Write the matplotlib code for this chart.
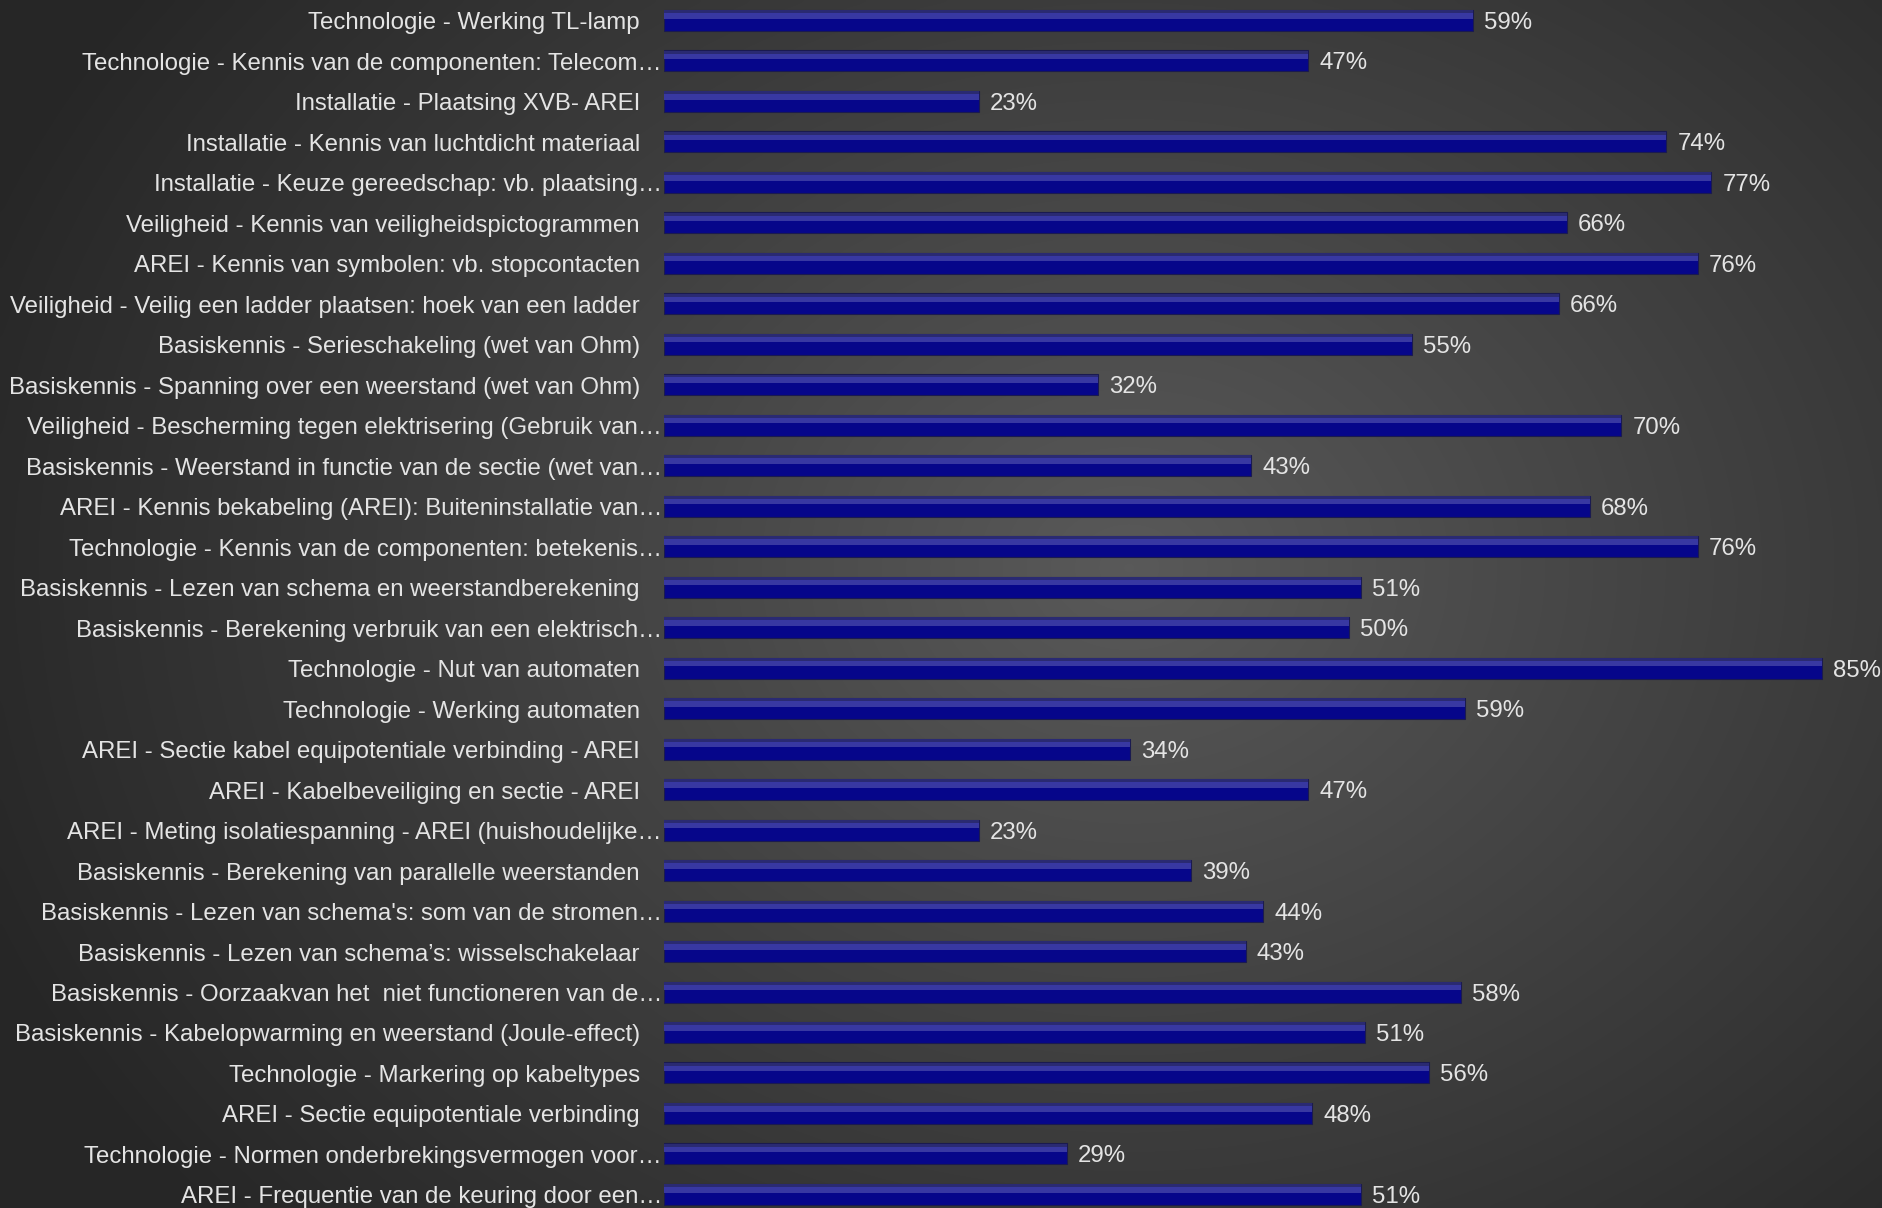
import matplotlib
matplotlib.use("Agg")
import matplotlib.pyplot as plt
import matplotlib.transforms as mtransforms
import numpy as np

plt.rcParams['font.family'] = ['Liberation Sans', 'DejaVu Sans']

# categories top to bottom
labels = [
    "Technologie - Werking TL-lamp",
    "Technologie - Kennis van de componenten: Telecom…",
    "Installatie - Plaatsing XVB- AREI",
    "Installatie - Kennis van luchtdicht materiaal",
    "Installatie - Keuze gereedschap: vb. plaatsing…",
    "Veiligheid - Kennis van veiligheidspictogrammen",
    "AREI - Kennis van symbolen: vb. stopcontacten",
    "Veiligheid - Veilig een ladder plaatsen: hoek van een ladder",
    "Basiskennis - Serieschakeling (wet van Ohm)",
    "Basiskennis - Spanning over een weerstand (wet van Ohm)",
    "Veiligheid - Bescherming tegen elektrisering (Gebruik van…",
    "Basiskennis - Weerstand in functie van de sectie (wet van…",
    "AREI - Kennis bekabeling (AREI): Buiteninstallatie van…",
    "Technologie - Kennis van de componenten: betekenis…",
    "Basiskennis - Lezen van schema en weerstandberekening",
    "Basiskennis - Berekening verbruik van een elektrisch…",
    "Technologie - Nut van automaten",
    "Technologie - Werking automaten",
    "AREI - Sectie kabel equipotentiale verbinding - AREI",
    "AREI - Kabelbeveiliging en sectie - AREI",
    "AREI - Meting isolatiespanning - AREI (huishoudelijke…",
    "Basiskennis - Berekening van parallelle weerstanden",
    "Basiskennis - Lezen van schema's: som van de stromen…",
    "Basiskennis - Lezen van schema’s: wisselschakelaar",
    "Basiskennis - Oorzaakvan het  niet functioneren van de…",
    "Basiskennis - Kabelopwarming en weerstand (Joule-effect)",
    "Technologie - Markering op kabeltypes",
    "AREI - Sectie equipotentiale verbinding",
    "Technologie - Normen onderbrekingsvermogen voor…",
    "AREI - Frequentie van de keuring door een…",
]

# bar lengths as measured (percent)
values = [59.4, 47.3, 23.1, 73.6, 76.9, 66.3, 75.9, 65.7, 54.9, 31.9,
          70.3, 43.1, 68.0, 75.9, 51.2, 50.3, 85.0, 58.8, 34.2, 47.3,
          23.1, 38.7, 44.0, 42.7, 58.5, 51.5, 56.2, 47.6, 29.6, 51.2]

# percentages printed next to the bars
shown = [59, 47, 23, 74, 77, 66, 76, 66, 55, 32,
         70, 43, 68, 76, 51, 50, 85, 59, 34, 47,
         23, 39, 44, 43, 58, 51, 56, 48, 29, 51]

W, H = 1883, 1208
fig = plt.figure(figsize=(W / 100, H / 100), dpi=100)

# background radial gradient
bg = fig.add_axes([0, 0, 1, 1])
gx, gy = np.meshgrid(np.linspace(0, 1, 400), np.linspace(0, 1, 260))
r = np.sqrt(((gx - 0.6) / 0.72) ** 2 + ((gy - 0.47) / 0.9) ** 2)
shade = np.clip(0.35 - 0.22 * r, 0.15, 0.35)
bg.imshow(np.dstack([shade, shade, shade]), aspect='auto', extent=[0, 1, 0, 1],
          interpolation='bicubic')
bg.set_axis_off()

left_px = 664
ax = fig.add_axes([left_px / W, 0, 1 - left_px / W, 1])
ax.patch.set_alpha(0)
n = len(labels)
y = np.arange(n)
px_per_pct = 13.62
ax.set_xlim(0, (W - left_px) / px_per_pct)
row = 40.48
top = 20.5
ax.set_ylim((H - top) / row, -top / row)

h = 21 / row
ax.barh(y, values, height=h, color='#06068a', edgecolor='#1a1a50', linewidth=0.8, zorder=2)
ax.barh(y - h * 0.27, values, height=h * 0.36, color='#3838a2', linewidth=0, zorder=3)
ax.barh(y - h * 0.42, values, height=h * 0.14, color='#2a2a72', linewidth=0, zorder=4)

fs = 17.3
for i in range(n):
    ax.text(values[i], y[i], f"{shown[i]}%", transform=ax.transData +
            mtransforms.ScaledTranslation(11 / 100, -2.5 / 100, fig.dpi_scale_trans),
            ha='left', va='center', fontsize=fs, color='#e4e4e4')
    off = -2 if labels[i].endswith('…') else -24
    ax.text(0, y[i], labels[i], transform=ax.transData +
            mtransforms.ScaledTranslation(off / 100, -3 / 100, fig.dpi_scale_trans),
            ha='right', va='center', fontsize=fs, color='#e4e4e4', clip_on=False)

ax.set_axis_off()

fig.savefig("out.png", dpi=100)
